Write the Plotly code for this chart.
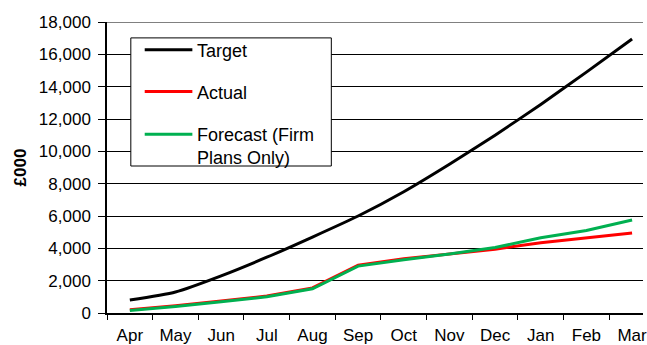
import plotly.graph_objects as go

months = ["Apr", "May", "Jun", "Jul", "Aug", "Sep", "Oct", "Nov", "Dec", "Jan", "Feb", "Mar"]
target = [800, 1300, 2300, 3450, 4700, 6000, 7500, 9200, 11000, 12900, 14900, 16950]
actual = [200, 450, 750, 1050, 1550, 2950, 3350, 3650, 3950, 4350, 4650, 4950]
forecast = [150, 400, 700, 1000, 1500, 2900, 3300, 3650, 4050, 4650, 5100, 5750]
y_ticks = list(range(0, 18001, 2000))

series = [
    ("Target", target, "#000000", "spline"),
    ("Actual", actual, "#ff0000", "linear"),
    ("Forecast (Firm<br>Plans Only)", forecast, "#00b050", "linear"),
]

FONT = "Arial, Liberation Sans, sans-serif"
W, H = 647, 345
ML, MR, MT, MB = 107, 0, 22, 30
PW, PH = W - ML - MR, H - MT - MB


def px_x(x):
    return (x - ML) / PW


def px_y(y):
    return 1 - (y - MT) / PH


fig = go.Figure()
for name, vals, color, shape in series:
    line = dict(color=color, width=3, shape=shape)
    if shape == "spline":
        line["smoothing"] = 0.6
    fig.add_trace(go.Scatter(x=months, y=vals, name=name, mode="lines",
                             line=line, showlegend=False))

# grey frame line along the top of the plot area
fig.add_shape(type="line", xref="paper", yref="y", x0=0, x1=1, y0=18000, y1=18000,
              line=dict(color="#808080", width=2))

# legend box with line samples and labels
fig.add_shape(type="rect", xref="paper", yref="paper",
              x0=px_x(131), x1=px_x(333), y0=px_y(167), y1=px_y(38),
              line=dict(color="black", width=1), fillcolor="white", layer="above")
for (name, vals, color, shape), yc in zip(series, [50, 92, 135]):
    fig.add_shape(type="line", xref="paper", yref="paper",
                  x0=px_x(145), x1=px_x(193), y0=px_y(yc), y1=px_y(yc),
                  line=dict(color=color, width=3), layer="above")
    fig.add_annotation(xref="paper", yref="paper", x=px_x(196), y=px_y(yc - 11),
                       xanchor="left", yanchor="top", showarrow=False, align="left",
                       text=name, font=dict(family=FONT, size=18, color="black"))

fig.update_layout(
    width=W, height=H,
    margin=dict(l=ML, r=MR, t=MT, b=MB),
    paper_bgcolor="white", plot_bgcolor="white",
    font=dict(family=FONT, size=17, color="black"),
    showlegend=False,
    xaxis=dict(type="category", range=[-0.5, -0.5 + PW / 46], showline=True, linecolor="black",
               linewidth=1.5, ticks="outside", tickson="boundaries", ticklen=5,
               tickcolor="black", showgrid=False, zeroline=False,
               tickfont=dict(size=17), ticklabelstandoff=6),
    yaxis=dict(range=[0, 18000], tickvals=y_ticks, tickformat=",d", showline=True,
               linecolor="black", linewidth=1.5, ticks="outside", ticklen=7,
               tickcolor="black", showgrid=True, gridcolor="black", gridwidth=1,
               zeroline=False, tickfont=dict(size=17), ticklabelstandoff=4,
               title=dict(text="<b>£000</b>", font=dict(size=17), standoff=8)),
)

fig.write_html("out.html")
